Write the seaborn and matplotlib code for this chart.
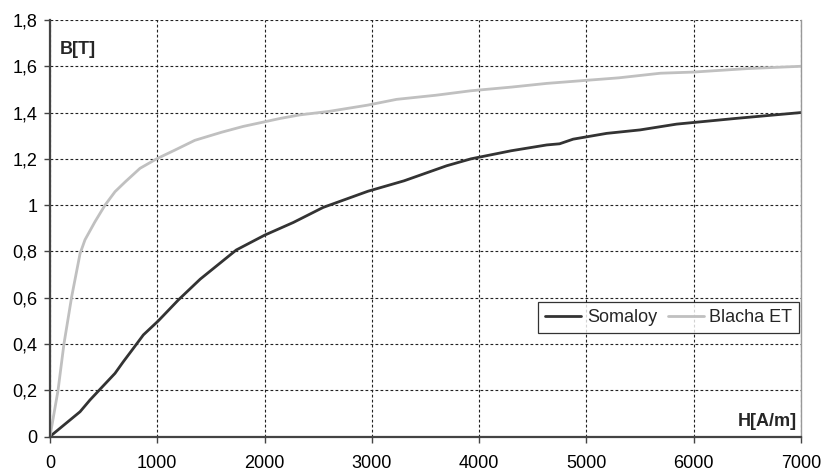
import matplotlib
matplotlib.use("Agg")
import matplotlib.pyplot as plt
import seaborn as sns
import pandas as pd
from matplotlib.ticker import FuncFormatter, MultipleLocator

# Magnetisation curves B(H)
h_somaloy = [0, 280, 373, 466, 606, 683, 777, 870, 1010, 1196, 1400, 1736,
             2000, 2268, 2546, 2964, 3300, 3697, 3924, 4300, 4630, 4750, 4876,
             5188, 5500, 5840, 6400, 7000]
b_somaloy = [0, 0.107, 0.158, 0.204, 0.273, 0.323, 0.381, 0.439, 0.50, 0.59,
             0.68, 0.806, 0.87, 0.925, 0.99, 1.06, 1.105, 1.17, 1.20, 1.235,
             1.26, 1.265, 1.285, 1.31, 1.325, 1.35, 1.375, 1.40]

h_blacha = [0, 75, 130, 202, 280, 326, 419, 513, 606, 700, 839, 994, 1165,
            1350, 1600, 1800, 2000, 2150, 2330, 2600, 2960, 3230, 3600, 3920,
            4300, 4630, 4880, 5300, 5690, 6000, 6500, 7000]
b_blacha = [0, 0.2, 0.4, 0.604, 0.79, 0.85, 0.928, 1.0, 1.058, 1.10, 1.159,
            1.2, 1.238, 1.28, 1.315, 1.34, 1.36, 1.375, 1.39, 1.405, 1.432,
            1.457, 1.475, 1.494, 1.51, 1.526, 1.535, 1.55, 1.57, 1.575, 1.59,
            1.6]

series_names = ["Somaloy", "Blacha ET"]
x_label = "H[A/m]"
y_label = "B[T]"

df = pd.concat([
    pd.DataFrame({"H": h_somaloy, "B": b_somaloy, "material": series_names[0]}),
    pd.DataFrame({"H": h_blacha, "B": b_blacha, "material": series_names[1]}),
], ignore_index=True)

sns.set_theme(style="white")
plt.rcParams["font.family"] = ["Liberation Sans", "DejaVu Sans"]

FS = 13

fig = plt.figure(figsize=(8.25, 4.70), dpi=100)
ax = fig.add_axes([50 / 825, 1 - 436.5 / 470, 751 / 825, 416.5 / 470])

palette = {series_names[0]: "#333333", series_names[1]: "#c0c0c0"}
sns.lineplot(data=df, x="H", y="B", hue="material", palette=palette,
             linewidth=2.0, ax=ax, sort=True, legend=True)

ax.set_xlim(0, 7000)
ax.set_ylim(0, 1.8)
ax.xaxis.set_major_locator(MultipleLocator(1000))
ax.yaxis.set_major_locator(MultipleLocator(0.2))


def comma_fmt(v, pos):
    s = f"{v:.1f}".rstrip("0").rstrip(".")
    return s.replace(".", ",")


ax.yaxis.set_major_formatter(FuncFormatter(comma_fmt))
ax.xaxis.set_major_formatter(FuncFormatter(lambda v, p: f"{int(round(v))}"))

ax.grid(True, color="#222222", linestyle=(0, (2.5, 2)), linewidth=0.8)
ax.set_axisbelow(True)

for side in ["left", "bottom"]:
    ax.spines[side].set_color("#444444")
    ax.spines[side].set_linewidth(1.6)
ax.spines["right"].set_color("#999999")
ax.spines["right"].set_linewidth(1.0)
ax.spines["top"].set_visible(False)

ax.tick_params(axis="both", which="major", direction="out", length=4,
               width=1, color="#444444", labelsize=FS, labelcolor="black",
               bottom=True, left=True)
ax.tick_params(axis="x", pad=9)
ax.tick_params(axis="y", pad=5)

ax.set_xlabel("")
ax.set_ylabel("")
ax.text(0.013, 0.93, y_label, transform=ax.transAxes, fontsize=FS,
        fontweight="bold", ha="left", va="center")
ax.text(0.995, 0.035, x_label, transform=ax.transAxes, fontsize=FS,
        fontweight="bold", ha="right", va="center")

leg = ax.legend(loc="upper right", bbox_to_anchor=(0.998, 0.323), ncol=2,
                frameon=True, fancybox=False, borderaxespad=0,
                fontsize=FS, handlelength=2.0, columnspacing=0.6,
                handletextpad=0.3, borderpad=0.4)
leg.get_frame().set_edgecolor("black")
leg.get_frame().set_linewidth(0.9)

fig.savefig("out.png", dpi=100)
